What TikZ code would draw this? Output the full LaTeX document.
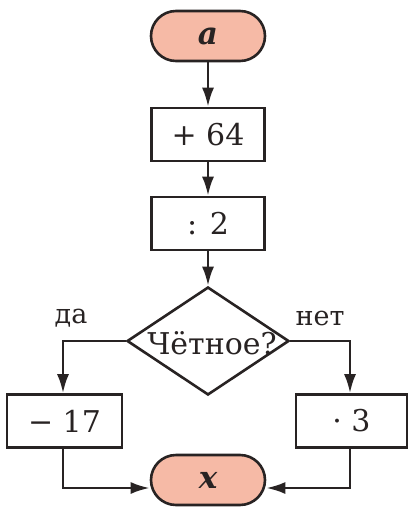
\documentclass[tikz,border=0pt]{standalone}
\usepackage{fontspec}
\setmainfont{DejaVu Serif}
\usetikzlibrary{shapes.geometric,arrows.meta}
\definecolor{termfill}{RGB}{246,186,166}
\definecolor{lineclr}{RGB}{40,35,35}
\begin{document}
\begin{tikzpicture}[x=1pt,y=-1pt,
  box/.style={draw=lineclr, line width=2.6pt, minimum width=113pt, minimum height=53pt, inner sep=0pt, text=lineclr, font=\fontsize{30}{32}\selectfont},
  term/.style={draw=lineclr, fill=termfill, line width=2.6pt, rounded corners=25pt, minimum width=114pt, minimum height=50pt, inner sep=0pt, text=lineclr, font=\fontsize{31}{32}\selectfont\bfseries\itshape},
  dia/.style={draw=lineclr, line width=2.6pt, diamond, minimum width=162pt, minimum height=108pt, inner sep=0pt},
  lbl/.style={font=\fontsize{27}{30}\selectfont, inner sep=0pt, text=lineclr},
  arr/.style={draw=lineclr, line width=2.6pt, -{Latex[length=19pt,width=12pt]}}]
\useasboundingbox (0,0) rectangle (409,509);
\node[term] (a) at (208,36) {a};
\node[box] (b1) at (208,134.5) {+ 64};
\node[box] (b2) at (208,223.5) {: 2};
\node[dia] (d) at (208,341) {};
\node[font=\fontsize{30}{32}\selectfont, inner sep=0pt, text=lineclr] (dt) at (212,343) {Чётное?};
\node[box, minimum width=115pt] (l) at (64.5,421) {− 17};
\node[box, minimum width=111pt] (r) at (351.5,421) {· 3};
\node[term] (x) at (208,480) {x};
\node[lbl] (yes) at (71,318) {да};
\node[lbl] (no) at (320,318) {нет};
\draw[arr] (a) -- (b1);
\draw[arr] (b1) -- (b2);
\draw[arr] (b2) -- (d);
\draw[arr] (d.west) -| ([xshift=-1.5pt]l.north);
\draw[arr] (d.east) -| ([xshift=-1.5pt]r.north);
\draw[arr] ([xshift=-1.5pt]l.south) |- ([yshift=-8pt]x.west);
\draw[arr] ([xshift=-1.5pt]r.south) |- ([yshift=-8pt]x.east);
\end{tikzpicture}
\end{document}
